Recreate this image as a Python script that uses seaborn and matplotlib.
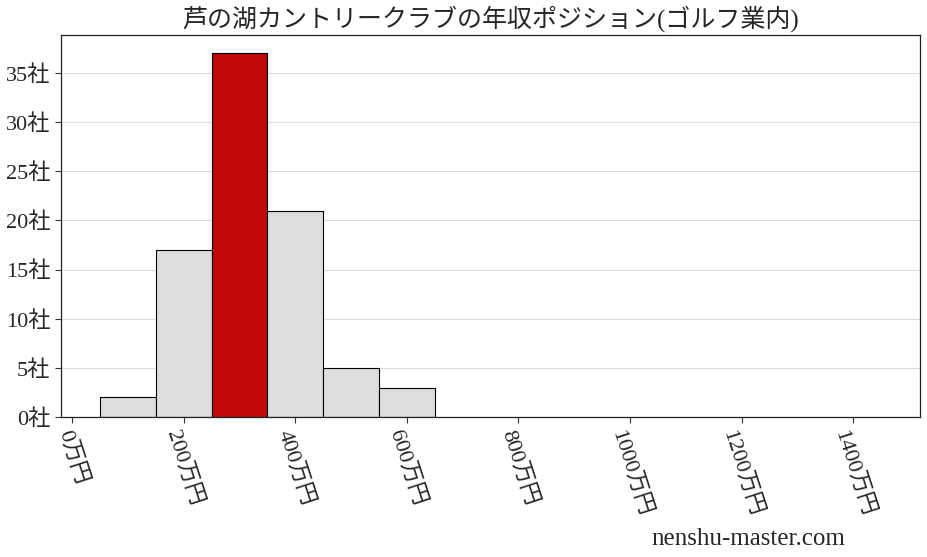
import numpy as np
import pandas as pd
import seaborn as sns
import matplotlib.pyplot as plt

# histogram data (万円 bins, company counts)
bin_edges = [50, 150, 250, 350, 450, 550, 650]
counts = [2, 17, 37, 21, 5, 3]
highlight_bin = 2  # 250-350万円
x_ticks = [0, 200, 400, 600, 800, 1000, 1200, 1400]
y_ticks = [0, 5, 10, 15, 20, 25, 30, 35]
title = '芦の湖カントリークラブの年収ポジション(ゴルフ業内)'

sns.set_style('white')
plt.rcParams['font.family'] = ['Liberation Serif', 'Noto Sans CJK JP', 'DejaVu Sans']

centers = [(a + b) / 2 for a, b in zip(bin_edges[:-1], bin_edges[1:])]
df = pd.DataFrame({'income': centers, 'count': counts})

fig = plt.figure(figsize=(9.28, 5.57), dpi=100)
ax = fig.add_axes([0.0657, 0.2513, 0.9257, 0.6857])

sns.histplot(data=df, x='income', weights='count', bins=bin_edges,
             color='#dcdddf', edgecolor='black', linewidth=0.8, alpha=1, ax=ax)
ax.patches[highlight_bin].set_facecolor('#c00a0a')

ax.set_xlim(-20, 1520)
ax.set_ylim(0, max(counts) * 1.05)
ax.set_xticks(x_ticks)
ax.set_xticklabels([f'{v}万円' for v in x_ticks], rotation=-72, ha='center', va='top')
ax.set_yticks(y_ticks)
ax.set_yticklabels([f'{v}社' for v in y_ticks])
ax.tick_params(axis='both', labelsize=16, length=4, direction='out',
               bottom=True, left=True, color='#333333')
ax.yaxis.grid(True, color='#dddddd', linewidth=0.8)
ax.set_axisbelow(True)
ax.set_xlabel('')
ax.set_ylabel('')
for s in ax.spines.values():
    s.set_color('#222222')
    s.set_linewidth(0.9)

ax.set_title(title, fontsize=18, pad=6)
fig.text(0.702, 0.022, 'nenshu-master.com', fontsize=18)

fig.savefig('out.png', dpi=100)
